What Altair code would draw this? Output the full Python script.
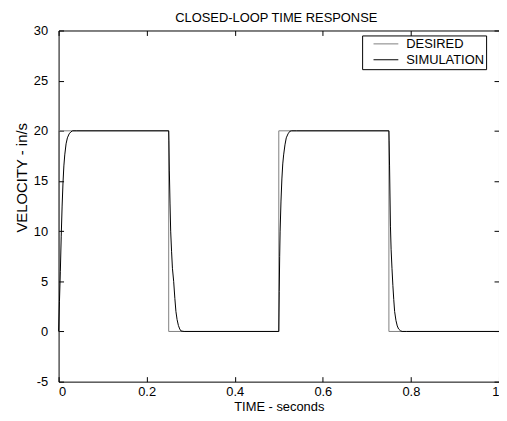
import altair as alt
import pandas as pd

# ---- data ----
x_ticks = [0, 0.2, 0.4, 0.6, 0.8, 1.0]
y_ticks = [-5, 0, 5, 10, 15, 20, 25, 30]

series_names = ["DESIRED", "SIMULATION"]
series_colors = ["#808080", "#000000"]

desired_t = [0, 0, 0.25, 0.25, 0.5, 0.5, 0.75, 0.75, 1.0]
desired_v = [0, 20, 20, 0, 0, 20, 20, 0, 0]

sim_t = [
    0, 0.002, 0.004, 0.006, 0.008, 0.010, 0.012, 0.014, 0.017, 0.020, 0.024, 0.028, 0.032, 0.04,
    0.25, 0.2505, 0.2515, 0.253, 0.2545, 0.2565, 0.2585, 0.2613, 0.264, 0.2664, 0.269, 0.272, 0.275, 0.278, 0.285,
    0.5, 0.501, 0.502, 0.503, 0.505, 0.507, 0.509, 0.511, 0.514, 0.517, 0.521, 0.525, 0.529, 0.54,
    0.75, 0.7505, 0.7515, 0.7525, 0.7535, 0.755, 0.757, 0.759, 0.761, 0.763, 0.766, 0.769, 0.772, 0.776, 0.78, 0.79,
    1.0,
]
sim_v = [
    0, 3, 6, 9.5, 12.5, 14.8, 16.5, 17.6, 18.7, 19.3, 19.7, 19.9, 20, 20,
    20, 19, 16, 12.8, 10, 8, 6.3, 5, 3.3, 2, 1.2, 0.6, 0.25, 0.05, 0,
    0, 4, 7.5, 10, 13, 15.2, 16.7, 17.6, 18.6, 19.3, 19.7, 19.95, 20, 20,
    20, 19, 16.5, 13.5, 10.5, 8.2, 6.3, 4.6, 3.2, 2, 1.1, 0.55, 0.25, 0.08, 0, 0,
    0,
]

chart_title = "CLOSED-LOOP TIME RESPONSE"
x_title = "TIME - seconds"
y_title = "VELOCITY - in/s"

df_des = pd.DataFrame({"t": desired_t, "v": desired_v, "series": series_names[0],
                       "i": list(range(len(desired_t)))})
df_sim = pd.DataFrame({"t": sim_t, "v": sim_v, "series": series_names[1],
                       "i": list(range(len(sim_t)))})

W, H = 444, 354
FONT = "Liberation Sans"

x_scale = alt.Scale(domain=[0, 1], nice=False, zero=False)
y_scale = alt.Scale(domain=[-5, 30], nice=False, zero=False)

color = alt.Color(
    "series:N",
    scale=alt.Scale(domain=series_names, range=series_colors),
    legend=alt.Legend(
        title=None, orient="none", legendX=306, legendY=5,
        strokeColor="black", fillColor="white", padding=2,
        symbolType="M-2.5,0H2.5", symbolSize=100, symbolStrokeWidth=1,
        symbolOffset=15.5, labelOffset=14,
        labelFont=FONT, labelFontSize=13, labelColor="black", labelLimit=0,
    ),
)

def tick_axis(orient, offset, vals, **kw):
    return alt.Axis(orient=orient, offset=offset, values=vals, labels=False,
                    ticks=True, tickSize=5, tickColor="black", tickWidth=1,
                    domain=False, grid=False, **kw)

minus_fix = "datum.value < 0 ? '-' + format(-datum.value, '~g') : format(datum.value, '~g')"

layer_a = alt.Chart(df_des).mark_line(strokeWidth=1).encode(
    x=alt.X("t:Q", scale=x_scale, axis=alt.Axis(
        orient="bottom", values=x_ticks, labelExpr=minus_fix, title=x_title,
        ticks=False, domain=False, grid=False, labelPadding=4,
        titleY=29, titleBaseline="alphabetic")),
    y=alt.Y("v:Q", scale=y_scale, axis=alt.Axis(
        orient="left", values=y_ticks, labelExpr=minus_fix, title=y_title,
        ticks=False, domain=False, grid=False, labelPadding=11,
        titleAngle=270, titleX=-32, titleY=148, titleAlign="center",
        titleBaseline="alphabetic", titleFontSize=15)),
    color=color,
    order="i:Q",
)

layer_b = alt.Chart(df_sim).mark_line(strokeWidth=1).encode(
    x=alt.X("t:Q", scale=x_scale, axis=tick_axis("top", -H, x_ticks, title=None)),
    y=alt.Y("v:Q", scale=y_scale, axis=tick_axis("right", -W, y_ticks, title=None)),
    color=color,
    order="i:Q",
)

layer_c = alt.Chart(df_des).mark_line(strokeWidth=1, strokeOpacity=0).encode(
    x=alt.X("t:Q", scale=x_scale, axis=tick_axis(
        "bottom", -H, x_ticks, title=chart_title, titleX=219, titleY=-9,
        titleAlign="center", titleBaseline="alphabetic", titleFontSize=13)),
    y=alt.Y("v:Q", scale=y_scale, axis=tick_axis("left", -W, y_ticks, title=None)),
    order="i:Q",
)

chart = alt.layer(layer_a, layer_b, layer_c).resolve_axis(
    x="independent", y="independent"
).properties(
    width=W, height=H,
    padding={"left": 51, "top": 21, "right": 0, "bottom": 36},
    autosize=alt.AutoSizeParams(type="none"),
    background="white",
).configure_view(
    stroke="black", strokeWidth=1
).configure_axis(
    labelFont=FONT, labelFontSize=13, labelColor="black",
    titleFont=FONT, titleFontSize=13, titleFontWeight="normal", titleColor="black",
)

chart.save("out.html", embed_options={"renderer": "svg", "actions": False})
